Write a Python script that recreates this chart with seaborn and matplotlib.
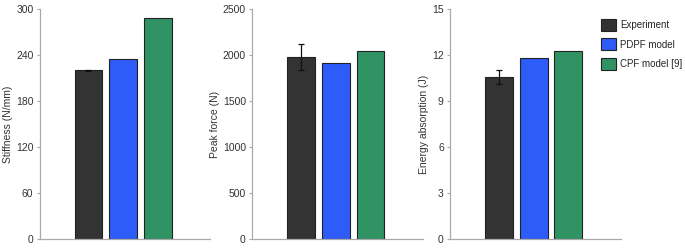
import matplotlib
matplotlib.use("Agg")
import matplotlib.pyplot as plt
import seaborn as sns
import pandas as pd
from matplotlib.patches import Patch

models = ["Experiment", "PDPF model", "CPF model [9]"]
colors = ["#333333", "#2d5cf8", "#2f9364"]

stiffness = [220, 235, 288]
stiffness_err = [1, 0, 0]
peak_force = [1980, 1920, 2040]
peak_force_err = [145, 0, 0]
energy = [10.6, 11.8, 12.25]
energy_err = [0.45, 0, 0]

ylabels = ["Stiffness (N/mm)", "Peak force (N)", "Energy absorption (J)"]
yticks = [[0, 60, 120, 180, 240, 300],
          [0, 500, 1000, 1500, 2000, 2500],
          [0, 3, 6, 9, 12, 15]]

sns.set_theme(style="white")
plt.rcParams["font.family"] = ["Liberation Sans", "DejaVu Sans"]

fig = plt.figure(figsize=(6.85, 2.48), dpi=100)
lefts = [0.058, 0.368, 0.657]
width = 0.249
bottom, height = 0.036, 0.927

series = [(stiffness, stiffness_err), (peak_force, peak_force_err), (energy, energy_err)]
gray = "#aaaaaa"
for i, (vals, errs) in enumerate(series):
    ax = fig.add_axes([lefts[i], bottom, width, height])
    df = pd.DataFrame({"model": models, "value": vals})
    sns.barplot(data=df, x="model", y="value", hue="model", palette=colors,
                order=models, hue_order=models, width=0.8, ax=ax, saturation=1,
                edgecolor="#222222", linewidth=0.8, legend=False)
    e = errs[0]
    if e > 0:
        ax.errorbar([0], [vals[0]], yerr=[e], fmt="none", ecolor="#111111",
                    elinewidth=0.9, capsize=2.5, capthick=0.9)
    ax.set_xlim(-1.4, 3.5)
    ax.set_ylim(yticks[i][0], yticks[i][-1])
    ax.set_yticks(yticks[i])
    ax.set_xticks([])
    ax.set_xlabel("")
    ax.set_ylabel(ylabels[i], fontsize=7.5, color="#333333", labelpad=2)
    for s in ["top", "right"]:
        ax.spines[s].set_visible(False)
    for s in ["left", "bottom"]:
        ax.spines[s].set_color(gray)
        ax.spines[s].set_linewidth(0.9)
    ax.tick_params(axis="y", which="major", direction="out", length=2.5,
                   width=0.8, color=gray, labelsize=7.5, labelcolor="#333333", pad=2,
                   left=True)

handles = [Patch(facecolor=c, edgecolor="#222222", linewidth=0.8) for c in colors]
fig.legend(handles, models, loc="upper left", bbox_to_anchor=(0.871, 0.94),
           frameon=False, fontsize=7, handlelength=1.55, handleheight=1.5,
           labelspacing=0.8, handletextpad=0.5, borderaxespad=0)

fig.savefig("out.png", dpi=100)
